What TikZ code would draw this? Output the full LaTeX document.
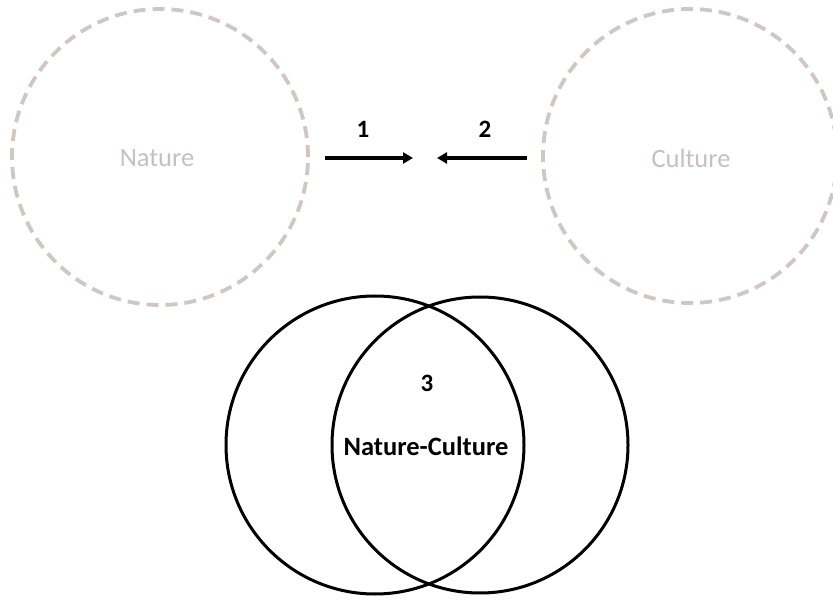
\documentclass[tikz,border=0pt]{standalone}
\usepackage{fontspec}
\setmainfont{Carlito}
\usetikzlibrary{arrows.meta}
\definecolor{dashgray}{RGB}{208,199,195}
\definecolor{lblgray}{RGB}{200,192,190}
\tikzset{
  dashcircle/.style={circle, draw=dashgray, line width=3.8pt, dash pattern=on 12pt off 7pt, inner sep=0pt, minimum size=#1},
  vennc/.style={circle, draw=black, line width=3pt, inner sep=0pt, minimum size=#1},
  toplbl/.style={text=lblgray, font=\fontsize{26.5}{30}\selectfont},
  numlbl/.style={text=black, font=\bfseries\fontsize{25}{28}\selectfont},
  arr/.style={line width=3.5pt, -{Triangle[length=10pt,width=11pt]}},
}
\begin{document}
\begin{tikzpicture}[x=1pt,y=-1pt]
\useasboundingbox[fill=white] (0,0) rectangle (833,601);
\node[dashcircle=296pt] (nat) at (160,157) {};
\node[dashcircle=294pt] (cul) at (690,156) {};
\node[toplbl] (natl) at (157,158) {Nature};
\node[toplbl] (cull) at (691,158) {Culture};
\coordinate (a1s) at (325,158);
\coordinate (a1e) at (413,158);
\coordinate (a2s) at (527,158);
\coordinate (a2e) at (437,158);
\draw[arr] (a1s) -- (a1e);
\draw[arr] (a2s) -- (a2e);
\node[numlbl] (n1) at (363,129) {1};
\node[numlbl] (n2) at (485,129) {2};
\node[vennc=298pt] (vl) at (375,445) {};
\node[vennc=296pt] (vr) at (480,445) {};
\node[numlbl] (n3) at (427,383) {3};
\node[text=black, font=\bfseries\fontsize{26.5}{30}\selectfont] (nc) at (426,446) {Nature-Culture};
\end{tikzpicture}
\end{document}
